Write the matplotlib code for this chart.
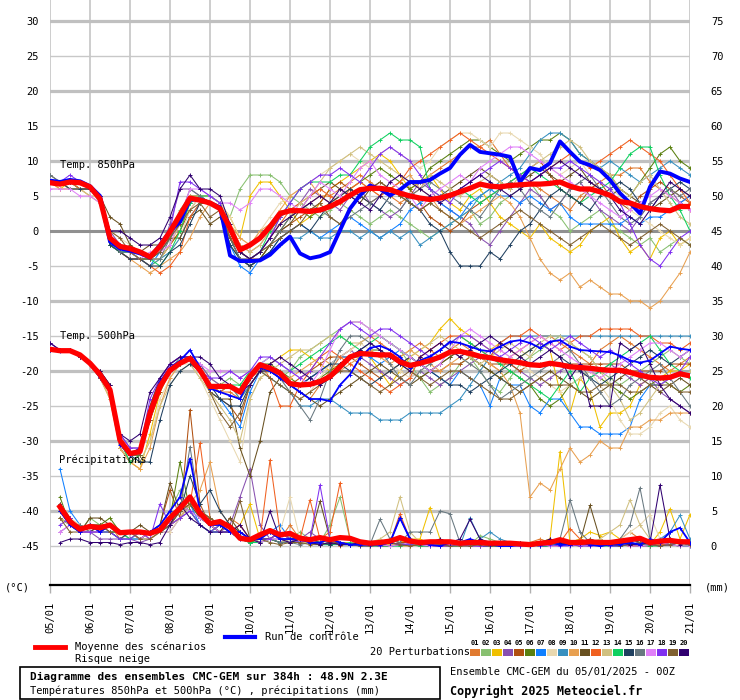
import numpy as np
import matplotlib
matplotlib.use("Agg")
import matplotlib.pyplot as plt
from matplotlib.lines import Line2D
from matplotlib.patches import Rectangle

# 6-hourly steps from 05/01 00Z to 21/01 00Z (384h)
steps = np.arange(65)
days = ["05/01", "06/01", "07/01", "08/01", "09/01", "10/01", "11/01", "12/01", "13/01",
        "14/01", "15/01", "16/01", "17/01", "18/01", "19/01", "20/01", "21/01"]

member_colors = ["#E07A30", "#88C070", "#F0C000", "#8850B0", "#B05010", "#5A8010", "#1080FF",
                 "#E8D8B0", "#3890C0", "#E8A050", "#685020", "#F06020", "#D0C080", "#10D060",
                 "#204060", "#687880", "#E080F8", "#8030F0", "#806030", "#300070"]

# ---- Temp 850hPa ----
t850_mean = [6.9, 6.7, 7.0, 6.9, 6.3, 4.6, -1.0, -2.2, -2.5, -3.0, -3.7, -2.2, -0.1, 2.3, 4.7, 4.4,
             4.0, 3.2, 0.4, -2.7, -2.0, -1.0, 0.6, 2.5, 2.9, 2.9, 2.8, 3.0, 3.5, 4.2, 5.1, 5.9,
             6.1, 6.1, 5.9, 5.4, 5.0, 4.7, 4.5, 4.7, 5.1, 5.6, 6.1, 6.7, 6.4, 6.3, 6.5, 6.6,
             6.7, 6.7, 6.8, 7.0, 6.4, 6.0, 6.0, 5.6, 5.1, 4.2, 4.0, 3.5, 3.2, 3.0, 2.9, 3.5, 3.5]
t850_ctrl = [7.2, 7.0, 7.3, 7.1, 6.4, 5.0, -1.5, -2.5, -2.8, -3.2, -3.8, -2.0, 0.0, 1.3, 4.5, 4.5,
             4.0, 3.4, -3.5, -4.3, -4.3, -4.2, -3.4, -2.0, -0.8, -3.2, -3.9, -3.6, -3.0, 0.1, 3.2,
             5.1, 6.5, 6.0, 5.1, 5.9, 7.0, 7.0, 7.3, 8.2, 9.0, 10.9, 12.3, 11.3, 11.1, 10.9, 10.6,
             7.0, 9.0, 8.7, 9.7, 12.8, 11.3, 9.9, 9.4, 8.7, 7.3, 5.4, 4.0, 2.5, 6.3, 8.5, 8.2,
             7.5, 7.0]
t850_members = [
    "7 7 7 6 6 5 | -1 -2 -3 -3 -4 -3 | -1 1 4 5 4 3 | 1 -2 -3 -2 | 0 2 3 3 4 5 5 6 7 | 8 7 6 5 4 5 6 8 9 10 | 11 12 12 13 11 9 8 7 6 5 | 4 3 5 6 7 8 8 9 9 7 6 5 4 3",
    "7 7 6 6 6 4 | -2 -3 -4 -4 -4 -2 | 0 3 5 5 4 3 | 2 6 8 8 | 8 7 5 4 3 2 3 4 3 | 2 1 2 3 2 1 0 -1 0 1 | 2 3 1 2 4 5 6 7 5 3 | 2 0 1 2 3 1 0 -1 -2 -1 -3 -2 -1 -2",
    "7 6 7 6 6 5 | -1 -2 -3 -4 -5 -4 | -2 0 4 5 5 4 | 2 -1 5 7 | 7 5 3 1 2 4 6 7 8 | 9 10 11 10 8 6 7 8 6 4 | 3 5 6 4 2 1 0 -1 1 -1 | -2 -3 -2 0 1 2 -1 -3 -2 -4 -1 0 -2 -1",
    "7 7 7 7 6 5 | 0 -2 -3 -3 -4 -3 | 1 6 6 5 4 3 | -1 -4 -4 -3 | -1 2 3 4 6 5 4 3 5 | 6 4 3 2 3 5 7 6 4 3 | 2 1 -1 -2 0 2 4 6 5 3 | 4 6 7 5 3 2 1 0 2 4 5 6 4 5",
    "7 7 6 6 6 5 | -1 -3 -3 -4 -4 -4 | -2 0 3 5 5 4 | 0 -3 -4 -4 | -2 0 1 2 3 4 6 7 6 | 5 4 5 6 7 6 4 2 1 0 | 1 3 4 5 6 7 8 9 10 8 | 6 5 4 6 7 5 4 3 5 6 7 6 5 4",
    "7 7 7 6 6 5 | -2 -3 -4 -4 -4 -3 | -1 2 5 5 4 3 | -2 -4 -5 -4 | -2 0 2 3 2 3 4 5 6 | 7 8 9 8 7 6 7 9 10 11 | 12 13 13 12 11 10 11 12 13 13 | 14 13 11 10 9 8 6 5 7 9 11 12 10 9",
    "7 7 7 7 6 5 | -2 -3 -4 -4 -5 -3 | -1 1 4 5 4 3 | -2 -5 -6 -4 | -3 -1 0 1 0 -1 0 1 2 | 1 0 -1 0 1 3 4 5 4 3 | 2 4 5 6 5 5 4 5 4 3 | 4 2 1 1 1 1 1 2 1 2 2 3 4 5",
    "6 6 6 6 5 5 | 0 -1 -2 -3 -4 -4 | -3 -1 3 5 5 4 | 2 -1 -2 0 | 2 4 5 6 7 8 9 10 11 | 10 9 11 12 11 10 9 10 12 13 | 14 14 13 12 14 14 13 12 11 9 | 8 9 10 8 7 6 5 3 2 1 0 -1 -2 -1",
    "7 7 7 6 6 5 | -2 -3 -3 -4 -5 -4 | -3 -1 2 4 4 3 | -1 -4 -5 -4 | -3 -2 -1 -1 0 -1 -1 0 0 | -1 0 -1 0 -1 0 -2 -1 0 1 | 2 3 5 6 7 8 9 11 13 14 | 14 13 11 10 9 10 9 8 7 8 9 10 9 8",
    "7 6 6 6 5 4 | -1 -3 -4 -5 -6 -5 | -4 -3 -1 2 4 3 | 1 -1 -2 0 | 1 3 5 6 7 5 4 5 6 | 7 6 5 6 7 8 6 5 3 2 | 1 2 3 4 5 4 2 -1 -4 -6 | -7 -6 -8 -7 -8 -9 -9 -10 -10 -11 -10 -8 -6 -3",
    "8 7 7 7 6 5 | 2 1 -2 -3 -2 -2 | -1 -1 2 3 1 2 | -1 -4 -5 -4 | -2 0 1 3 5 6 7 6 5 | 4 6 7 6 5 4 3 4 5 6 | 7 8 9 8 7 6 7 8 9 8 | 7 8 9 7 6 5 6 5 4 3 4 5 6 5",
    "7 7 7 6 6 5 | -2 -3 -4 -4 -5 -6 | -5 -3 2 4 4 3 | -1 -3 -4 -3 | -1 1 3 4 5 6 5 4 6 | 7 6 5 6 7 9 10 11 12 13 | 14 13 12 11 10 9 8 7 8 9 | 10 11 10 9 10 11 12 13 12 11 10 8 6 4",
    "7 7 6 6 5 5 | -1 -2 -3 -4 -4 -4 | -2 1 5 5 5 4 | 1 -2 -3 -2 | 0 1 2 4 5 7 9 10 11 | 12 11 10 9 8 7 6 8 7 6 | 5 6 7 8 7 6 8 9 10 11 | 12 13 12 10 9 8 6 5 7 8 6 4 2 1",
    "7 7 7 7 6 5 | -2 -3 -3 -4 -4 -5 | -3 0 4 5 5 4 | 0 -3 -4 -3 | 0 2 4 6 7 7 7 8 8 | 10 12 13 14 13 13 12 6 5 5 | 6 5 4 5 6 7 8 9 8 7 | 6 5 4 5 6 7 9 11 12 12 8 5 3 0",
    "7 7 6 6 6 5 | -2 -3 -4 -4 -5 -5 | -3 -2 1 4 4 3 | -2 -4 -5 -4 | -3 -1 0 1 0 2 4 5 6 | 5 4 3 5 6 4 3 1 0 -3 | -5 -5 -5 -3 -4 -2 0 1 3 5 | 6 5 4 3 5 6 7 6 4 3 5 6 7 6",
    "8 7 7 7 6 5 | -1 -3 -3 -4 -4 -4 | -1 2 6 5 4 3 | -1 -4 -4 -3 | -2 0 2 3 4 3 2 1 2 | 3 4 5 4 3 5 6 7 6 5 | 4 3 2 4 6 7 6 4 3 2 | 4 6 7 8 6 4 2 1 2 4 5 6 5 6",
    "6 6 6 5 5 4 | -1 -2 -3 -4 -3 -3 | -2 2 6 6 5 4 | 4 3 4 6 | 6 5 4 3 5 7 6 5 7 | 9 10 8 7 6 5 3 5 6 7 | 8 7 9 10 11 12 12 11 10 9 | 8 7 6 5 4 3 2 3 4 5 6 5 4 3",
    "7 7 8 7 6 5 | -1 -2 -3 -3 -4 -2 | 0 7 7 6 5 4 | 0 -3 -4 -3 | -1 2 4 6 7 8 8 9 8 | 7 9 11 12 11 10 8 6 5 4 | 6 7 8 9 10 9 8 7 8 9 | 9 10 9 8 7 6 4 1 -2 -4 -5 -3 -1 0",
    "7 7 7 7 6 5 | 0 -1 -3 -4 -4 -3 | -1 1 3 4 2 3 | -1 -3 -4 -3 | -2 -1 0 1 3 4 2 1 3 | 5 6 7 6 5 4 3 4 3 2 | 1 0 -1 0 1 2 3 2 1 0 | -1 -2 -1 0 1 0 -1 -2 -1 0 1 0 -1 -2",
    "7 7 7 7 6 5 | 0 0 -1 -2 -2 -1 | 2 6 8 6 6 5 | 1 -3 -4 -3 | -1 1 2 3 4 5 4 6 5 | 4 3 5 7 8 7 6 5 4 5 | 6 7 8 7 6 5 6 7 8 9 | 10 9 8 7 6 5 3 2 1 3 5 7 6 5",
]

# ---- Temp 500hPa ----
t500_mean = [-16.9, -17.1, -17.1, -17.7, -18.9, -20.5, -22.7, -29.9, -31.8, -31.5, -26.0, -22.2,
             -19.9, -18.9, -18.2, -19.9, -22.2, -22.2, -22.2, -23.0, -20.8, -19.1, -19.6, -20.3,
             -21.8, -22.0, -21.9, -21.5, -20.8, -19.4, -18.0, -17.5, -17.6, -17.7, -17.7, -18.7,
             -19.2, -18.9, -18.5, -18.0, -17.3, -17.2, -17.5, -17.9, -18.1, -18.4, -18.6, -18.8,
             -19.1, -19.2, -18.9, -19.1, -19.4, -19.5, -19.6, -19.8, -19.9, -19.9, -20.2, -20.6,
             -20.9, -21.0, -20.9, -20.4, -20.7]
t500_ctrl = [-17.0, -17.2, -17.0, -17.8, -19.0, -20.8, -23.0, -30.5, -32.0, -31.0, -25.5, -21.5,
             -19.5, -18.5, -17.0, -19.5, -22.5, -23.0, -23.5, -24.0, -21.0, -19.5, -20.0, -21.0,
             -22.0, -23.0, -24.0, -24.0, -24.3, -22.0, -20.5, -18.1, -16.7, -16.4, -17.0, -18.0,
             -19.6, -18.5, -17.9, -17.0, -15.8, -16.0, -16.5, -17.0, -17.2, -16.5, -15.8, -15.6,
             -16.0, -16.7, -15.8, -15.6, -16.5, -17.0, -17.1, -17.2, -17.3, -17.8, -18.5, -18.8,
             -18.5, -17.5, -16.5, -16.8, -17.0]
t500_members = [
    "-17 -17 -17 -18 -19 -21 | -23 -30 -32 -32 -27 -23 | -20 -19 -18 -20 -22 -23 | -23 -24 -21 -19 | -20 -21 -22 -23 -24 -22 -20 -18 -17 | -16 -15 -16 -17 -18 -17 -16 -17 -18 -17 | -16 -17 -18 -19 -20 -18 -17 -16 -15 -15 | -16 -17 -18 -19 -17 -16 -15 -16 -17 -18 -19 -20 -19 -18",
    "-17 -17 -17 -18 -19 -21 | -23 -30 -33 -32 -26 -22 | -20 -18 -18 -19 -21 -22 | -21 -22 -21 -19 | -20 -21 -20 -18 -17 -16 -15 -14 -13 | -13 -14 -15 -16 -17 -19 -21 -23 -22 -21 | -19 -18 -20 -22 -23 -21 -19 -18 -17 -16 | -15 -16 -17 -18 -20 -21 -22 -21 -20 -19 -18 -17 -18 -19",
    "-17 -17 -17 -18 -19 -21 | -23 -31 -33 -34 -29 -23 | -20 -19 -18 -20 -22 -23 | -22 -24 -22 -20 | -19 -18 -17 -17 -18 -19 -20 -19 -18 | -17 -18 -20 -22 -20 -18 -17 -16 -14 -12.5 | -14 -15 -16 -17 -16 -17 -18 -17 -16 -17 | -23 -26 -21 -23 -28 -26 -26 -25 -22 -21 -21 -20 -20 -19",
    "-16 -17 -17 -18 -19 -20 | -22 -29 -31 -31 -25 -21 | -19 -18 -18 -19 -21 -22 | -22 -23 -21 -20 | -20 -21 -22 -22 -21 -20 -19 -18 -17 | -18 -19 -20 -21 -22 -21 -20 -21 -22 -21 | -20 -19 -18 -17 -18 -19 -20 -21 -22 -21 | -20 -19 -20 -21 -20 -19 -20 -21 -22 -21 -23 -24 -25 -26",
    "-17 -17 -17 -18 -19 -21 | -23 -31 -33 -32 -27 -23 | -20 -19 -18 -20 -23 -24 | -25 -27 -22 -20 | -20 -21 -22 -21 -20 -19 -18 -18 -18 | -19 -20 -21 -20 -19 -18 -19 -20 -20 -19 | -19 -18 -18 -19 -19 -19 -20 -19 -19 -19 | -19 -19 -19 -19 -19 -19 -19 -20 -20 -20 -20 -19 -19 -19",
    "-17 -17 -17 -18 -19 -21 | -23 -30 -32 -32 -26 -22 | -20 -19 -18 -20 -22 -22 | -22 -23 -21 -19 | -19 -20 -21 -22 -22 -21 -20 -19 -18 | -18 -17 -17 -18 -19 -20 -21 -20 -19 -18 | -17 -18 -19 -20 -21 -20 -21 -22 -24 -25 | -24 -22 -21 -20 -21 -22 -23 -24 -23 -22 -21 -22 -23 -22",
    "-17 -17 -17 -18 -19 -21 | -23 -30 -32 -31 -26 -22 | -20 -19 -18 -20 -23 -24 | -26 -28 -23 -20 | -20 -21 -22 -22 -21 -20 -19 -18 -18 | -17 -18 -19 -18 -17 -18 -19 -20 -21 -22 | -20 -21 -22 -25 -21 -22 -22 -25 -26 -24 | -24 -26 -28 -28 -29 -29 -29 -28 -24 -22 -22 -21 -20 -20",
    "-17 -17 -17 -18 -19 -21 | -24 -31 -33 -33 -30 -24 | -21 -19 -19 -21 -24 -27 | -30 -33 -24 -21 | -20 -21 -23 -24 -23 -21 -19 -18 -17 | -16 -17 -18 -19 -20 -21 -20 -19 -18 -17 | -18 -19 -20 -18 -17 -18 -19 -20 -21 -22 | -23 -22 -21 -20 -22 -24 -27 -29 -29 -28 -26 -25 -27 -28",
    "-17 -17 -17 -18 -19 -21 | -23 -30 -32 -31 -26 -22 | -20 -19 -18 -20 -22 -23 | -22 -24 -22 -20 | -21 -22 -23 -25 -25 -24 -24 -25 -26 | -26 -26 -27 -27 -27 -26 -26 -26 -26 -25 | -24 -22 -20 -18 -16 -15 -15 -15 -15 -15 | -15 -15 -15 -15 -15 -15 -15 -15 -15 -15 -15 -15 -15 -15",
    "-17 -17 -17 -18 -19 -21 | -24 -31 -33 -34 -31 -25 | -21 -19 -18 -20 -22 -22 | -22 -23 -21 -20 | -20 -21 -21 -20 -19 -18 -19 -20 -19 | -18 -17 -18 -19 -18 -17 -18 -19 -20 -19 | -18 -17 -18 -19 -20 -22 -26 -38 -36 -37 | -34 -31 -33 -32 -30 -31 -31 -28 -28 -27 -27 -26 -26 -26",
    "-17 -17 -17 -18 -19 -20 | -22 -30 -32 -31 -25 -21 | -19 -18 -18 -20 -23 -24 | -24 -31 -35 -30 | -23 -21 -22 -23 -24 -25 -24 -23 -22 | -21 -20 -19 -20 -21 -22 -21 -20 -19 -18 | -17 -18 -19 -20 -21 -22 -23 -22 -21 -20 | -21 -22 -23 -24 -23 -22 -21 -20 -21 -22 -23 -22 -21 -22",
    "-17 -17 -17 -18 -19 -21 | -23 -31 -33 -32 -27 -22 | -20 -19 -18 -20 -22 -23 | -22 -23 -20 -19 | -21 -25 -25 -22 -20 -18 -17 -18 -19 | -20 -21 -22 -23 -22 -21 -18 -17 -16 -15 | -15 -16 -17 -18 -16 -15 -15 -14 -15 -16 | -17 -16 -15 -15 -14 -14 -14 -14 -15 -15 -16 -16 -17 -16",
    "-17 -17 -17 -18 -19 -21 | -24 -31 -33 -33 -30 -25 | -22 -20 -19 -21 -23 -25 | -27 -30 -24 -21 | -20 -19 -18 -17 -17 -16 -15 -15 -16 | -16 -15 -15 -16 -17 -18 -17 -16 -15 -16 | -17 -18 -19 -18 -17 -16 -17 -18 -16 -15 | -15 -16 -17 -18 -20 -22 -24 -27 -26 -24 -22 -21 -20 -20",
    "-17 -17 -17 -18 -19 -21 | -23 -30 -33 -32 -26 -22 | -20 -19 -18 -20 -22 -22 | -22 -22 -20 -19 | -18 -19 -20 -19 -18 -17 -16 -15 -16 | -17 -16 -15 -16 -17 -18 -19 -18 -17 -16 | -15 -16 -17 -18 -19 -20 -21 -22 -23 -24 | -22 -20 -23 -21 -20 -19 -18 -17 -16 -15 -17 -19 -20 -21",
    "-17 -17 -17 -18 -19 -21 | -23 -30 -32 -33 -33 -27 | -22 -20 -19 -20 -22 -24 | -25 -25 -22 -20 | -20 -21 -22 -22 -21 -20 -19 -19 -20 | -21 -22 -21 -20 -19 -18 -19 -20 -21 -22 | -22 -23 -22 -21 -20 -19 -18 -17 -16 -17 | -18 -19 -20 -21 -22 -21 -20 -19 -18 -17 -18 -19 -18 -17",
    "-17 -17 -17 -18 -19 -21 | -23 -30 -32 -32 -27 -22 | -20 -19 -18 -20 -22 -22 | -22 -23 -21 -19 | -20 -21 -23 -25 -27 -24 -20 -17 -15 | -15 -16 -17 -19 -21 -22 -20 -19 -18 -17 | -18 -19 -20 -22 -24 -23 -22 -21 -20 -19 | -18 -17 -19 -21 -23 -25 -24 -22 -21 -20 -19 -21 -23 -25",
    "-17 -17 -17 -18 -19 -21 | -23 -30 -32 -31 -26 -22 | -19 -18 -18 -19 -20 -20 | -20 -21 -20 -19 | -18 -19 -20 -21 -22 -20 -17 -14 -13 | -13 -14 -15 -16 -17 -18 -19 -20 -19 -17 | -15 -14 -15 -16 -17 -18 -17 -16 -15 -16 | -17 -18 -19 -20 -21 -20 -19 -18 -17 -16 -16 -17 -18 -17",
    "-16 -17 -17 -18 -19 -21 | -23 -29 -31 -31 -24 -21 | -19 -18 -18 -20 -21 -21 | -20 -21 -20 -18 | -18 -19 -20 -21 -20 -18 -16 -14 -13 | -14 -15 -14 -14 -15 -16 -17 -18 -17 -16 | -15 -15 -16 -17 -18 -17 -16 -15 -16 -17 | -16 -15 -16 -17 -18 -17 -18 -19 -20 -21 -22 -21 -20 -18",
    "-17 -17 -17 -18 -19 -21 | -23 -30 -32 -32 -27 -22 | -20 -19 -18 -20 -23 -26 | -28 -26 -22 -20 | -21 -22 -23 -24 -23 -22 -21 -20 -20 | -21 -22 -23 -22 -21 -20 -21 -22 -21 -20 | -20 -21 -22 -23 -24 -24 -23 -22 -21 -22 | -22 -22 -23 -23 -22 -22 -22 -23 -23 -22 -22 -22 -23 -23",
    "-16 -17 -17 -18 -19 -20 | -22 -29 -30 -29 -23 -21 | -19 -18 -18 -18 -19 -21 | -22 -23 -22 -20 | -19 -18 -19 -20 -21 -22 -21 -19 -18 | -17 -16 -17 -18 -19 -20 -18 -17 -16 -17 | -18 -17 -16 -15 -16 -17 -18 -19 -18 -17 | -18 -21 -19 -25 -25 -25 -16 -17 -16 -19 -22 -24 -25 -26",
]

# ---- Precipitation (mm per 6h, from step 1) ----
rr_mean = [5.6, 3.5, 2.4, 2.8, 2.6, 3.0, 1.9, 2.0, 2.0, 1.8, 2.3, 4.0, 5.4, 7.0, 4.7, 3.2, 3.5,
           2.7, 1.1, 0.9, 1.6, 2.2, 1.6, 1.8, 1.1, 0.9, 1.2, 0.9, 1.2, 1.1, 0.6, 0.4, 0.5, 0.7,
           1.2, 0.7, 0.5, 0.6, 0.6, 0.6, 0.4, 0.5, 0.5, 0.4, 0.4, 0.4, 0.3, 0.2, 0.4, 0.5, 0.9,
           0.5, 0.5, 0.6, 0.5, 0.5, 0.7, 0.9, 1.1, 0.5, 0.7, 0.8, 0.6, 0.6]
rr_ctrl = "5 3 2 3 2 3 2 2 2 2 3 | 5 7 12.5 5 3 3 2 2 1 1 | 2 1 1 1 .5 .5 1 .5 .2 .2 | .2 .2 .5 4 1 .5 .2 0 .5 .5 | 1 .5 .2 0 0 .2 0 .2 .5 .2 | .2 .5 .2 0 .2 .2 .5 .2 1 .5 2 2.6 .5"
rr_members = [
    "6 3 2 3 2 3 1 2 1 2 2 | 3 4 6 5 3 2 4 3 1 1 | 2 1 3 1 .5 .5 1 0 .5 .5 | 0 .2 .5 1 .5 .2 0 0 .2 .5 | .2 0 0 0 0 .2 .5 1 .5 .2 | .2 .5 1 .5 .5 1 2 1 .5 .2 .5 1 .5",
    "4 3 2 4 3 3 2 2 1 2 3 | 5 8 6 4 3 2 2 1 .5 1 | 2 1 1 2 1 .5 3 7 1 .5 | 0 .5 1 .5 .2 0 .2 .5 .2 0 | .2 1.5 1 .5 .2 0 0 .2 .5 .5 | .5 1 .5 .2 .5 .5 1 .5 .2 .2 1 .5 .2",
    "5 4 2 2 3 3 2 2 1 2 2 | 3 4 6 5 4 3 2 3 6 1 | 1 2 1 1.5 1 .5 1 .5 .5 .2 | .5 .2 0 .5 1 1 5.5 1 .2 0 | 0 .2 .5 .2 0 0 .2 .5 1 13.5 | .5 1 2 1.5 2 1 .5 0 .2 2 5.3 1 4.5",
    "2 3 2 2 1 1 1 1 .5 1 2 | 2 4 5 4 3 2 3 7 11 3 | 1 1 .5 1 2 1 .5 .5 .2 .2 | 0 0 .2 .5 .2 0 0 0 .2 0 | 0 0 .2 0 0 0 .2 0 0 0 | 0 .2 0 0 .2 .5 .2 0 0 .2 .2 0 0",
    "6 4 2 2 2 3 2 2 2 2 3 | 8 4 19.5 6 3 2 2 1 1 .5 | 1 .5 1 .5 .5 .2 .5 .5 .2 .5 | .2 0 .2 .5 .5 .2 .2 0 0 .2 | .2 0 0 0 0 .5 .2 0 0 .2 | .5 .2 0 .2 .5 .2 0 0 .2 .5 .2 0 .2",
    "7 3 2 3 3 4 2 2 2 2 2 | 4 12 5 3 2 3 2 1 .5 1 | 1 2 1 .5 1 .5 .2 .5 .2 .2 | .2 0 .5 .2 0 .2 .5 .2 0 0 | 0 0 .2 0 .2 .5 .2 0 .2 0 | .2 0 .5 .2 0 0 .2 .2 0 .5 .2 0 .2",
    "11 5 3 2 2 2 2 1 1 2 2 | 3 4 6 3 2 2 2 1.5 1 1 | 2 3 1 .5 .5 .2 .5 .2 .2 0 | 0 .2 0 .2 .5 .2 .5 .2 0 0 | 0 .2 0 0 0 .5 .2 0 0 0 | 0 .2 .5 .2 0 0 .2 .5 1 .5 .2 0 0",
    "6 4 3 2 3 2 1 2 2 1 2 | 2 4 7 5 4 3 2 1 1 .5 | 1 2 7 1 .5 .2 .5 .2 .5 .2 | .2 .5 .2 0 0 .2 .5 .2 0 0 | 0 0 .2 .5 .2 0 0 .2 0 0 | .2 .5 .2 0 .5 1 2 3 4.5 1 .5 .2 .5",
    "5 3 2 2 2 2 1 1 1 2 2 | 3 5 7 4 3 2 2 1 .5 .5 | 1 .5 1 .5 .5 .2 .2 .5 .2 .2 | 0 .2 .5 .2 .2 .5 .5 .2 .2 0 | 4 1 2 1 .5 .2 .2 0 .2 .2 | .2 .5 .2 0 .2 .5 .2 0 .5 1 2 4.4 1",
    "5 3 3 2 2 3 2 2 2 1 2 | 3 5 6 8 12 5 3 2 1 1 | 1 2 1.5 1 .5 .5 1 .5 .2 .2 | .2 .5 .2 0 0 .2 .5 .2 .5 .2 | 0 0 .2 0 0 .2 .5 .2 0 0 | .2 0 .2 .5 .2 .5 1 .5 .2 0 .2 0 .2",
    "4 3 2 4 4 3 2 2 3 2 3 | 9 5 6 4 3 2 4 2 1 1 | 1 2 1 1 1 6.4 1 .5 .2 .5 | .2 0 0 .2 .5 .2 0 0 .2 .5 | .2 0 0 .2 0 0 .2 .5 .2 .5 | .2 .5 5.8 1 .2 0 .2 .5 .2 0 .2 .5 .2",
    "5 3 2 2 3 3 2 2 1 2 2 | 3 4 6 14.7 4 3 2 3 1 1 | 12.3 2 1 1 6.6 1 2 9 1 .5 | .5 .2 .5 4.6 1 .5 .2 0 .2 .5 | .2 0 0 .2 .5 .2 0 .5 1 .5 | 2.5 1 .5 .2 .5 .2 0 .2 .5 .2 .2 .5 .2",
    "4 3 2 3 2 2 2 1 2 2 2 | 3 4 6 5 4 3 2 1 1 .5 | 1 .5 1 .5 .5 .2 .5 .2 .2 .5 | .5 1 2 7 2 .5 .2 0 .2 .2 | 0 .2 0 0 0 .2 .5 .2 0 .2 | .5 .2 .5 1 2 3 6.6 3 1 .5 .2 .5 .2",
    "5 3 2 3 2 2 2 1 2 2 3 | 4 6 5 3 2 3 2 1 .5 .5 | 1 .5 .5 1 .5 .2 .2 .2 .5 .2 | 0 0 0 0 .2 0 0 .2 0 0 | 0 0 0 0 0 0 .2 0 0 .5 | 0 .2 0 0 0 .2 .5 .2 0 0 .2 0 0",
    "6 4 2 2 3 2 1 2 2 2 2 | 3 5 10 6 8 5 3 2 1 1 | 1 .5 .5 1 .5 .5 .2 .5 .2 .2 | 0 .2 .5 .2 .5 .2 0 0 .2 .5 | .2 0 0 .5 .2 0 0 .2 .5 .2 | .2 .5 .2 0 .2 .5 1 .5 .2 .5 .2 .5 .2",
    "5 3 3 2 2 3 2 2 1 2 2 | 3 5 14.2 5 4 3 2 1 1 .5 | 1 .5 .5 .2 .5 .2 .5 .2 .2 .5 | .2 3.8 1 .5 2 2 2 5 4.6 .5 | .2 0 .2 .2 .5 .2 0 .2 .5 1 | 6.6 2 .5 .2 .5 1 3 8.3 1 .5 .2 .5 .2",
    "2 3 2 2 2 3 2 2 1 2 2 | 4 6 5 4 3 2 2 1 1 .5 | 1 1 2 1 .5 .5 1 .5 .2 .2 | 0 .2 0 .2 .5 .2 0 0 .2 0 | 0 0 .2 0 0 0 0 .2 0 0 | 0 .2 0 0 .2 .2 0 0 .2 .5 .2 0 0",
    "3 4 2 2 2 2 1 1 2 1 6 | 3 4 5 3 2 3 2 1 1 1 | 1 2 1 .5 1 8.7 1 .5 .2 .2 | .2 0 .5 .2 .2 .5 .2 0 0 .2 | 0 0 0 .2 0 0 .2 0 .2 0 | .2 0 0 .2 0 0 .2 .5 .2 0 .2 .5 .2",
    "4 2 2 3 3 2 2 2 1 1 2 | 3 5 6 5 4 3 2 6.5 1 1 | .5 .2 .5 .5 .2 .2 .5 .2 .2 0 | 0 .2 .5 .2 0 .2 .5 .2 0 0 | 0 .2 0 0 .2 .5 .2 .5 1 .5 | .2 .5 1 .5 .2 0 .2 .5 .2 0 .2 .5 .2",
    ".5 1 1 .5 .5 .5 .2 .5 .5 .2 .5 | 3 6 4 3 2 2 2 3 1 .5 | 5 1 .5 1 .5 .2 .5 .2 .2 .5 | .2 .5 .5 4 1 .5 .5 1 .5 1 | 3.8 1 .5 .2 .2 .5 .2 .2 1 .5 | .2 .5 .2 .5 .2 .5 .2 .2 .5 8.7 1 .2 .5",
]


def vals(s):
    return np.array(s.replace("|", " ").split(), dtype=float)


MONO = "DejaVu Sans Mono"
W, H = 740, 700


def fx(x):
    return x / W


def fy(y):
    return 1 - y / H


fig = plt.figure(figsize=(7.4, 7.0), dpi=100)
ax = fig.add_axes([fx(50), fy(585), 640 / W, 585 / H])
ax.set_xlim(0, 64)
ax.set_ylim(-50.57, 33)

# grid
for d in range(0, 65, 4):
    ax.axvline(d, color="#c0c0c0", lw=1.1, zorder=0)
for v in range(-45, 31, 5):
    if v == 0:
        ax.axhline(v, color="#909090", lw=2.2, zorder=0)
    elif v % 10 == 0:
        ax.axhline(v, color="#c0c0c0", lw=2.3, zorder=0)
    else:
        ax.axhline(v, color="#c8c8c8", lw=1.0, zorder=0)

mk = dict(marker="+", ms=3.2, mew=0.7)
rr_steps = steps[1:]
for c, s850, s500, srr in zip(member_colors, t850_members, t500_members, rr_members):
    ax.plot(steps, vals(s850), color=c, lw=0.75, zorder=2, **mk)
    ax.plot(steps, vals(s500), color=c, lw=0.75, zorder=2, **mk)
    ax.plot(rr_steps, vals(srr) - 45, color=c, lw=0.75, zorder=2, **mk)

ax.plot(steps, t850_ctrl, color="#0000ff", lw=2.8, zorder=3)
ax.plot(steps, t500_ctrl, color="#0000ff", lw=1.3, zorder=3, **mk)
ax.plot(rr_steps, vals(rr_ctrl) - 45, color="#0000ff", lw=1.3, zorder=3, **mk)

ax.plot(steps, t850_mean, color="#ff0000", lw=3.8, zorder=4, solid_joinstyle="round")
ax.plot(steps, t500_mean, color="#ff0000", lw=3.8, zorder=4, solid_joinstyle="round")
ax.plot(rr_steps, np.array(rr_mean) - 45, color="#ff0000", lw=3.8, zorder=4,
        solid_joinstyle="round")

# axes styling
for s in ["top", "right", "left"]:
    ax.spines[s].set_visible(False)
ax.spines["bottom"].set_linewidth(1.6)
ax.set_xticks(np.arange(0, 65, 4))
ax.set_xticklabels(days, rotation=90, fontfamily=MONO, fontsize=7.5)
ax.tick_params(axis="x", length=6, width=1, color="#b0b0b0", pad=6)
yt = np.arange(-45, 31, 5)
ax.set_yticks(yt)
ax.set_yticklabels([str(v) for v in yt], fontfamily=MONO, fontsize=7.5)
ax.tick_params(axis="y", length=0, pad=8)

ax2 = ax.twinx()
ax2.set_ylim(ax.get_ylim())
ax2.set_yticks(yt)
ax2.set_yticklabels([str(v + 45) for v in yt], fontfamily=MONO, fontsize=7.5)
ax2.tick_params(axis="y", length=0, pad=15)
for s in ax2.spines.values():
    s.set_visible(False)

txt = dict(fontfamily=MONO, fontsize=7.5, va="center")
fig.text(fx(60), fy(165), "Temp. 850hPa", **txt)
fig.text(fx(60), fy(336), "Temp. 500hPa", **txt)
fig.text(fx(59), fy(460), "Précipitations", **txt)
fig.text(fx(5), fy(587), "(°C)", **txt)
fig.text(fx(705), fy(587), "(mm)", **txt)

# legend
fig.add_artist(Line2D([fx(35), fx(65)], [fy(647), fy(647)], color="#ff0000", lw=3.5,
                      transform=fig.transFigure))
fig.text(fx(75), fy(647), "Moyenne des scénarios", **txt)
fig.text(fx(75), fy(659), "Risque neige", **txt)
fig.add_artist(Line2D([fx(225), fx(255)], [fy(637), fy(637)], color="#0000ff", lw=3,
                      transform=fig.transFigure))
fig.text(fx(265), fy(637), "Run de contrôle", **txt)
fig.text(fx(370), fy(652), "20 Perturbations", **txt)
for k, c in enumerate(member_colors):
    x0 = 470 + 11 * k
    fig.add_artist(Rectangle((fx(x0), fy(656)), 10 / W, 7 / H, facecolor=c, edgecolor="none",
                             transform=fig.transFigure))
    fig.text(fx(x0 + 5), fy(643), "%02d" % (k + 1), fontfamily=MONO, fontsize=5,
             fontweight="bold", ha="center", va="center")

fig.add_artist(Rectangle((fx(20), fy(699)), 420 / W, 32 / H, facecolor="none",
                         edgecolor="black", lw=1.2, transform=fig.transFigure))
fig.text(fx(30), fy(677), "Diagramme des ensembles CMC-GEM sur 384h : 48.9N 2.3E",
         fontfamily=MONO, fontsize=8, fontweight="bold", va="center")
fig.text(fx(30), fy(691), "Températures 850hPa et 500hPa (°C) , précipitations (mm)", **txt)
fig.text(fx(450), fy(672), "Ensemble CMC-GEM du 05/01/2025 - 00Z", **txt)
fig.text(fx(450), fy(691), "Copyright 2025 Meteociel.fr", fontfamily=MONO, fontsize=8.5,
         fontweight="bold", va="center")

fig.savefig("out.png", dpi=100)
